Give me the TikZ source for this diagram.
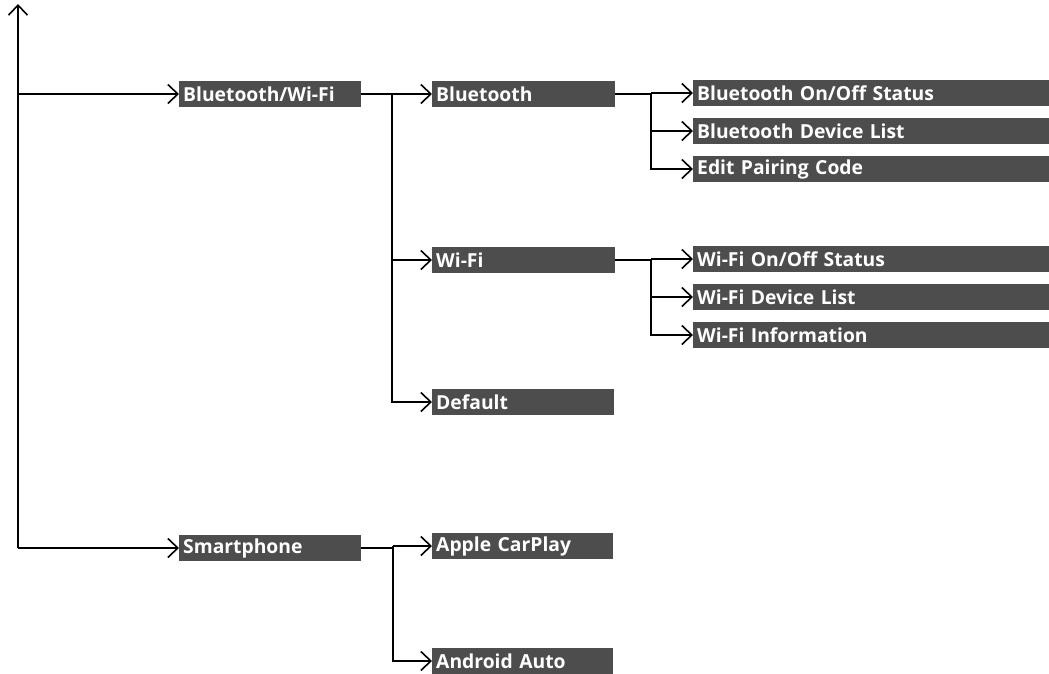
\documentclass[tikz,border=0pt]{standalone}
\usepackage{fontspec}
\setmainfont{Open Sans}
\usetikzlibrary{arrows.meta}
\definecolor{boxgray}{HTML}{4D4D4D}
\tikzset{
  mbox/.style={fill=boxgray, text=white, anchor=west, minimum height=26pt,
    inner xsep=4pt, inner ysep=0pt, align=left,
    font=\fontsize{19.3}{22}\selectfont\bfseries},
  lvl/.style={line width=1.8pt},
  arr/.style={lvl, -{Straight Barb[length=10pt,width=19pt,line width=1.6pt]}}
}
\begin{document}
\begin{tikzpicture}[x=1pt,y=-1pt]
\useasboundingbox (0,0) rectangle (1049,673);
% level 1
\node[mbox, text width=174pt] (bw) at (179,94) {Bluetooth/Wi-Fi};
\node[mbox, text width=174pt] (sp) at (179,548) {Smartphone};
% level 2
\node[mbox, text width=175pt] (bt) at (432,94) {Bluetooth};
\node[mbox, text width=175pt] (wf) at (432,260) {Wi-Fi};
\node[mbox, text width=174pt] (df) at (432,402) {Default};
\node[mbox, text width=173pt] (ac) at (432,546) {Apple CarPlay};
\node[mbox, text width=173pt] (aa) at (432,661) {Android Auto};
% level 3
\node[mbox, text width=348pt] (b1) at (693,93) {Bluetooth On/Off Status};
\node[mbox, text width=348pt] (b2) at (693,131) {Bluetooth Device List};
\node[mbox, text width=348pt] (b3) at (693,169) {Edit Pairing Code};
\node[mbox, text width=348pt] (w1) at (693,259) {Wi-Fi On/Off Status};
\node[mbox, text width=348pt] (w2) at (693,297) {Wi-Fi Device List};
\node[mbox, text width=348pt] (w3) at (693,335) {Wi-Fi Information};
% junctions
\coordinate (root) at (18,548);
\coordinate (top) at (18,4);
\coordinate (j1) at (392,94);
\coordinate (j2) at (651,94);
\coordinate (j3) at (651,260);
\coordinate (j4) at (393,548);
% level 1 connectors
\draw[arr] (root) -- (top);
\draw[arr] (root |- bw.west) -- (bw.west);
\draw[arr] (root) -- (sp.west);
% level 2 connectors
\draw[lvl] (bw.east) -- (j1);
\draw[arr] (j1) -- (bt.west);
\draw[arr] (j1 |- wf.west) -- (wf.west);
\draw[arr] (j1) |- (df.west);
\draw[lvl] (sp.east) -- (j4);
\draw[arr] (j4 |- ac.west) -- (ac.west);
\draw[arr] (j4 |- ac.west) |- (aa.west);
% level 3 connectors
\draw[lvl] (bt.east) -- (j2);
\draw[arr] (j2 |- b1.west) -- (b1.west);
\draw[arr] (j2 |- b2.west) -- (b2.west);
\draw[arr] (j2 |- b1.west) |- (b3.west);
\draw[lvl] (wf.east) -- (j3);
\draw[arr] (j3 |- w1.west) -- (w1.west);
\draw[arr] (j3 |- w2.west) -- (w2.west);
\draw[arr] (j3 |- w1.west) |- (w3.west);
\end{tikzpicture}
\end{document}
